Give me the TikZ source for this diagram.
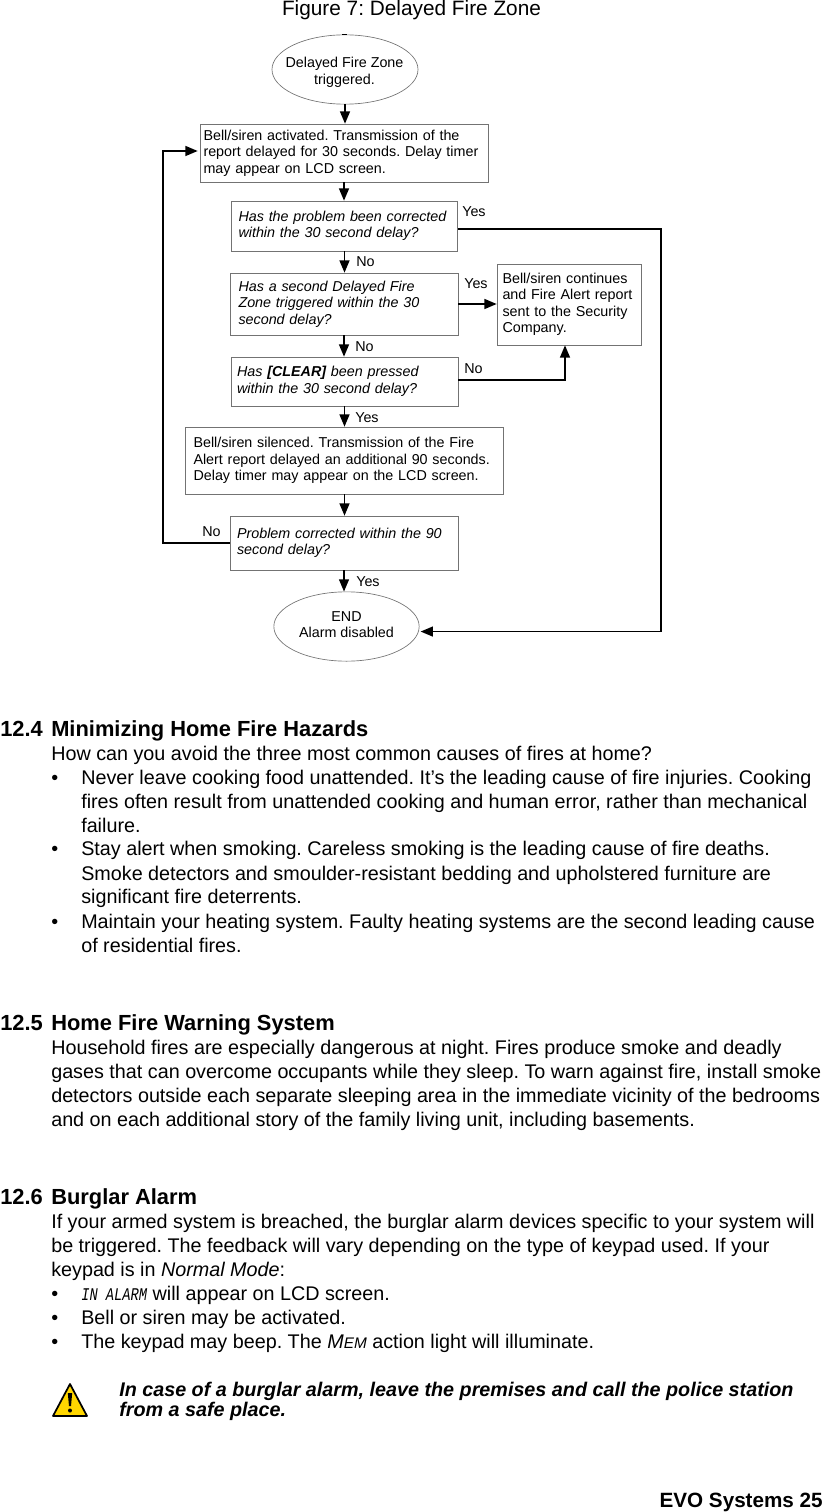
\documentclass[tikz,border=0pt]{standalone}
\usepackage{fontspec}
\usepackage{graphicx}
\setmainfont{Liberation Sans}
\newfontfamily\lcdfont{Liberation Mono}
\usetikzlibrary{arrows}
\usetikzlibrary{shapes.geometric}
\frenchspacing
\tikzset{
  fcbox/.style={draw=black!55,line width=0.6pt,rectangle,inner sep=0pt,align=left,font=\fontsize{10.75}{12.35}\selectfont},
  fcoval/.style={draw=black!55,line width=0.5pt,ellipse,inner sep=0pt},
  fcovaltext/.style={inner sep=0pt,align=center,font=\fontsize{10.75}{12.35}\selectfont},
  fclabel/.style={anchor=base west,inner sep=0pt,font=\fontsize{10.75}{12.35}\selectfont},
  flowline/.style={line width=1.1pt,color=black},
  bodyline/.style={anchor=base west,inner sep=0pt,font=\fontsize{14.82}{18}\selectfont},
  headline/.style={anchor=base west,inner sep=0pt,font=\fontsize{16.4}{18}\selectfont\bfseries},
  warnline/.style={anchor=base west,inner sep=0pt,font=\fontsize{14.82}{18}\selectfont\bfseries\itshape}
}
\begin{document}
\begin{tikzpicture}[line cap=butt,line join=miter,>=triangle 45,x=0.75pt,y=-0.75pt]
        \useasboundingbox (0,0) rectangle (823,1512);
        \node[anchor=base,inner sep=0pt,font=\fontsize{15.6}{18}\selectfont] (title) at (411.5,16) {Figure 7: Delayed Fire Zone};
        % flow chart
        \node[fcoval,minimum width=109.5pt,minimum height=52pt] (start) at (345,69.5) {};
        \node[fcovaltext] (starttext) at (344.5,72.5) {Delayed Fire Zone\\triggered.};
        \node[fcbox,minimum width=216pt,minimum height=43.5pt,text width=210.75pt] (bell) at (344,153) {Bell/siren activated. Transmission of the\\report delayed for 30 seconds. Delay timer\\may appear on LCD screen.};
        \node[fcbox,minimum width=169.5pt,minimum height=37.5pt,text width=159pt] (corrected) at (344.5,226) {\itshape Has the problem been corrected\\within the 30 second delay?};
        \node[fcbox,minimum width=171pt,minimum height=46.5pt,text width=158.25pt] (second) at (344,304) {\itshape Has a second Delayed Fire\\Zone triggered within the 30\\second delay?};
        \node[fcbox,minimum width=170.25pt,minimum height=36.75pt,text width=161.25pt] (clear) at (344.5,381.5) {\itshape Has \textbf{[CLEAR]} been pressed\\within the 30 second delay?};
        \node[fcbox,minimum width=238.5pt,minimum height=50.25pt,text width=226.5pt] (silenced) at (344.5,460.5) {Bell/siren silenced. Transmission of the Fire\\Alert report delayed an additional 90 seconds.\\Delay timer may appear on the LCD screen.};
        \node[fcbox,minimum width=171pt,minimum height=40.5pt,text width=160.5pt] (within) at (344,543) {\itshape Problem corrected within the 90\\second delay?};
        \node[fcoval,minimum width=109pt,minimum height=52pt] (stop) at (346.5,626.5) {};
        \node[fcovaltext] (stoptext) at (346.5,624.5) {END\\Alarm disabled};
        \node[fcbox,minimum width=108pt,minimum height=60.75pt,text width=99.75pt] (continues) at (569,304.5) {Bell/siren continues\\and Fire Alert report\\sent to the Security\\Company.};
        \draw[line width=0.6pt] (342,34) -- (347,34);
        % arrows down the middle
        \draw[->,flowline] (start.south) -- (start.south |- bell.north);
        \draw[->,flowline] (bell.south) -- (bell.south |- corrected.north);
        \draw[->,flowline] (corrected.south) -- (corrected.south |- second.north);
        \draw[->,flowline] (second.south) -- (second.south |- clear.north);
        \draw[->,flowline] (clear.south) -- (clear.south |- silenced.north);
        \draw[->,flowline] (silenced.south) -- (silenced.south |- within.north);
        \draw[->,flowline] (within.south) -- (within.south |- stop.north);
        % side branches
        \coordinate (leftup) at (163,151);
        \coordinate (rightup) at (661,229);
        \coordinate (clearup) at (565,380);
        \draw[->,flowline,shorten >=1.5pt] (within.west) -- (within.west -| leftup) -- (leftup) -- (bell.west |- leftup);
        \draw[->,flowline,shorten >=1.5pt] (corrected.east |- rightup) -- (rightup) |- (stop.-4.5);
        \draw[->,flowline] (second.east) -- (second.east -| continues.west);
        \draw[->,flowline] (clear.east |- clearup) -- (clearup) -- (clearup |- continues.south);
        \node[fclabel] (yes1) at (462,217) {Yes};
        \node[fclabel] (no1) at (356,267) {No};
        \node[fclabel] (yes2) at (464,288) {Yes};
        \node[fclabel] (no2) at (355,351) {No};
        \node[fclabel] (no3) at (464,373) {No};
        \node[fclabel] (yes3) at (355,422) {Yes};
        \node[fclabel] (no4) at (202,536) {No};
        \node[fclabel] (yes4) at (356,586) {Yes};
        % section 12.4
        \node[headline] (num124) at (0,736) {12.4};
        \node[headline] (head124) at (51,736) {Minimizing Home Fire Hazards};
        \node[bodyline] (l1) at (51,760.5) {How can you avoid the three most common causes of fires at home?};
        \node[bodyline] (l2) at (81,784.5) {Never leave cooking food unattended. It’s the leading cause of fire injuries. Cooking};
        \node[bodyline] (l3) at (81,808.5) {fires often result from unattended cooking and human error, rather than mechanical};
        \node[bodyline] (l4) at (81,832) {failure.};
        \node[bodyline] (l5) at (81,855.5) {Stay alert when smoking. Careless smoking is the leading cause of fire deaths.};
        \node[bodyline] (l6) at (81,880) {Smoke detectors and smoulder-resistant bedding and upholstered furniture are};
        \node[bodyline] (l7) at (81,903) {significant fire deterrents.};
        \node[bodyline] (l8) at (81,928) {Maintain your heating system. Faulty heating systems are the second leading cause};
        \node[bodyline] (l9) at (81,952) {of residential fires.};
        % section 12.5
        \node[headline] (num125) at (0,1030) {12.5};
        \node[headline] (head125) at (51,1030) {Home Fire Warning System};
        \node[bodyline] (l10) at (51,1054) {Household fires are especially dangerous at night. Fires produce smoke and deadly};
        \node[bodyline] (l11) at (51,1078) {gases that can overcome occupants while they sleep. To warn against fire, install smoke};
        \node[bodyline] (l12) at (51,1102) {detectors outside each separate sleeping area in the immediate vicinity of the bedrooms};
        \node[bodyline] (l13) at (51,1126) {and on each additional story of the family living unit, including basements.};
        % section 12.6
        \node[headline] (num126) at (0,1204) {12.6};
        \node[headline] (head126) at (51,1204) {Burglar Alarm};
        \node[bodyline] (l14) at (51,1228) {If your armed system is breached, the burglar alarm devices specific to your system will};
        \node[bodyline] (l15) at (51,1252) {be triggered. The feedback will vary depending on the type of keypad used. If your};
        \node[bodyline] (l16) at (51,1276) {keypad is in \textit{Normal Mode}:};
        \node[bodyline] (l17) at (81,1300) {\scalebox{1}[1.3]{\lcdfont\itshape\fontsize{10.3}{12}\selectfont IN ALARM} will appear on LCD screen.};
        \node[bodyline] (l18) at (81,1324) {Bell or siren may be activated.};
        \node[bodyline] (l19) at (81,1348) {The keypad may beep. The \textit{M{\fontsize{11.5}{12}\selectfont EM}} action light will illuminate.};
        \foreach \y in {784,855,928,1300,1324,1348}
        \node[bodyline] (bullet\y) at (51,\y) {•};
        % warning sign
        \draw[line width=1.3pt,line join=round,fill={rgb,255:red,255;green,214;blue,0}] (70,1384) -- (87,1416) -- (53,1416) -- cycle;
        \fill (67.8,1393) -- (72.2,1393) -- (71,1406) -- (69,1406) -- cycle;
        \fill (70,1410.5) circle (1.5pt);
        \node[warnline] (w1) at (119,1396) {In case of a burglar alarm, leave the premises and call the police station};
        \node[warnline] (w2) at (119,1416) {from a safe place.};
        \node[anchor=base east,inner sep=0pt,font=\fontsize{15.5}{18}\selectfont\bfseries] (footer) at (823,1507.5) {EVO Systems 25};
\end{tikzpicture}
\end{document}
